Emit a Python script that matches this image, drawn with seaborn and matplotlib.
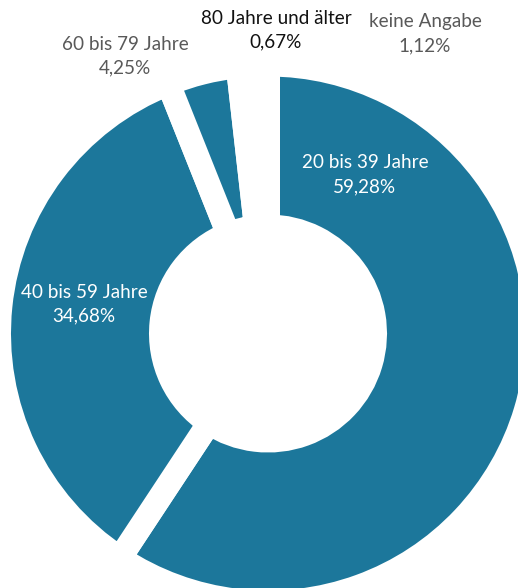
import matplotlib
matplotlib.use("Agg")
import matplotlib.pyplot as plt
import seaborn as sns

# ---- data ----
categories = ["20 bis 39 Jahre", "40 bis 59 Jahre", "60 bis 79 Jahre",
              "80 Jahre und älter", "keine Angabe"]
shares = [59.28, 34.68, 4.25, 0.67, 1.12]

# ---- styling ----
BLUE = "#1c779b"
slice_colors = [BLUE, BLUE, BLUE, "white", "white"]
label_colors = ["white", "white", "#595959", "#111111", "#595959"]
# label anchor positions in pixel coords (x, y from top)
label_pos = [(365, 175), (84, 304), (125, 56), (276, 30), (425, 34)]

sns.set_theme(style="white")
plt.rcParams["font.family"] = ["Lato", "DejaVu Sans"]

W, H = 518, 588
fig = plt.figure(figsize=(W / 100, H / 100), dpi=100)
ax = fig.add_axes([0, 0, 1, 1])

cx, cy = 268, H - 333.5
R_out, R_in = 269, 107
gap_px = 24

ax.pie(shares, colors=slice_colors, startangle=90, counterclock=False,
       radius=R_out, center=(cx, cy),
       wedgeprops=dict(width=R_out - R_in, edgecolor="white",
                       linewidth=gap_px * 72 / 100, joinstyle="miter"))

ax.set_xlim(0, W)
ax.set_ylim(0, H)
ax.set_aspect("equal")
ax.axis("off")

def fmt(v):
    return f"{v:.2f}".replace(".", ",") + "%"

for cat, val, col, (px, py) in zip(categories, shares, label_colors, label_pos):
    ax.text(px, H - py, f"{cat}\n{fmt(val)}", color=col, ha="center", va="center",
            fontsize=13.6, linespacing=1.5)

fig.savefig("out.png", dpi=100)
